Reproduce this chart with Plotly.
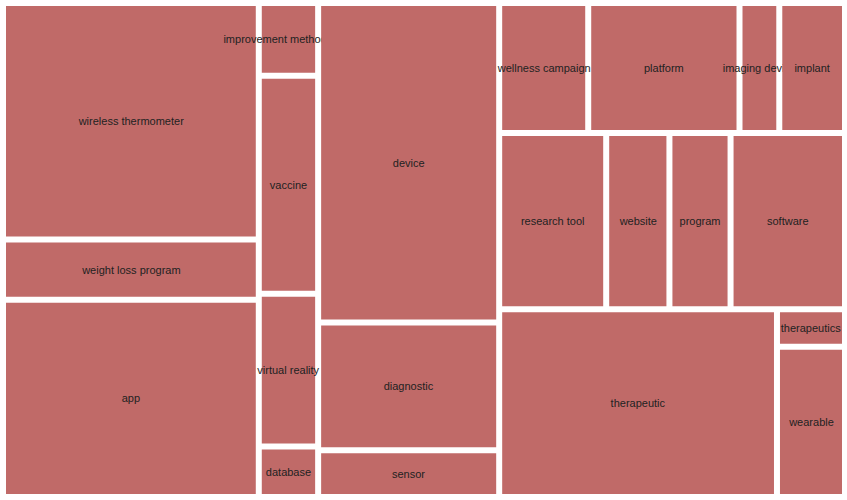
import plotly.graph_objects as go

labels = [
    "wireless thermometer", "weight loss program", "app",
    "improvement methodology", "vaccine", "virtual reality", "database",
    "device", "diagnostic", "sensor",
    "wellness campaign", "platform", "imaging device", "implant",
    "research tool", "website", "program", "software",
    "therapeutic", "therapeutics", "wearable",
]
values = [
    6045, 1542, 5045,
    431, 1294, 906, 300,
    5783, 2313, 845,
    1157, 1966, 517, 854,
    1885, 1114, 1077, 2016,
    5215, 255, 1022,
]
parents = [""] * len(labels)

tile_color = "#c06a68"

fig = go.Figure(go.Treemap(
    labels=labels,
    parents=parents,
    values=values,
    sort=False,
    tiling=dict(packing="squarify", squarifyratio=1.618034, pad=6),
    marker=dict(colors=[tile_color] * len(labels),
                line=dict(color="white", width=0),
                pad=dict(t=0, l=0, r=0, b=0)),
    pathbar=dict(visible=False),
    textinfo="label",
    textposition="middle center",
    textfont=dict(family="Liberation Sans, Arial, sans-serif", size=11, color="#222222"),
    hoverinfo="skip",
))

fig.update_layout(
    width=847, height=500,
    margin=dict(l=6, r=5, t=6, b=6),
    paper_bgcolor="white",
    uniformtext=dict(minsize=11, mode="show"),
)

fig.write_html("out.html")
